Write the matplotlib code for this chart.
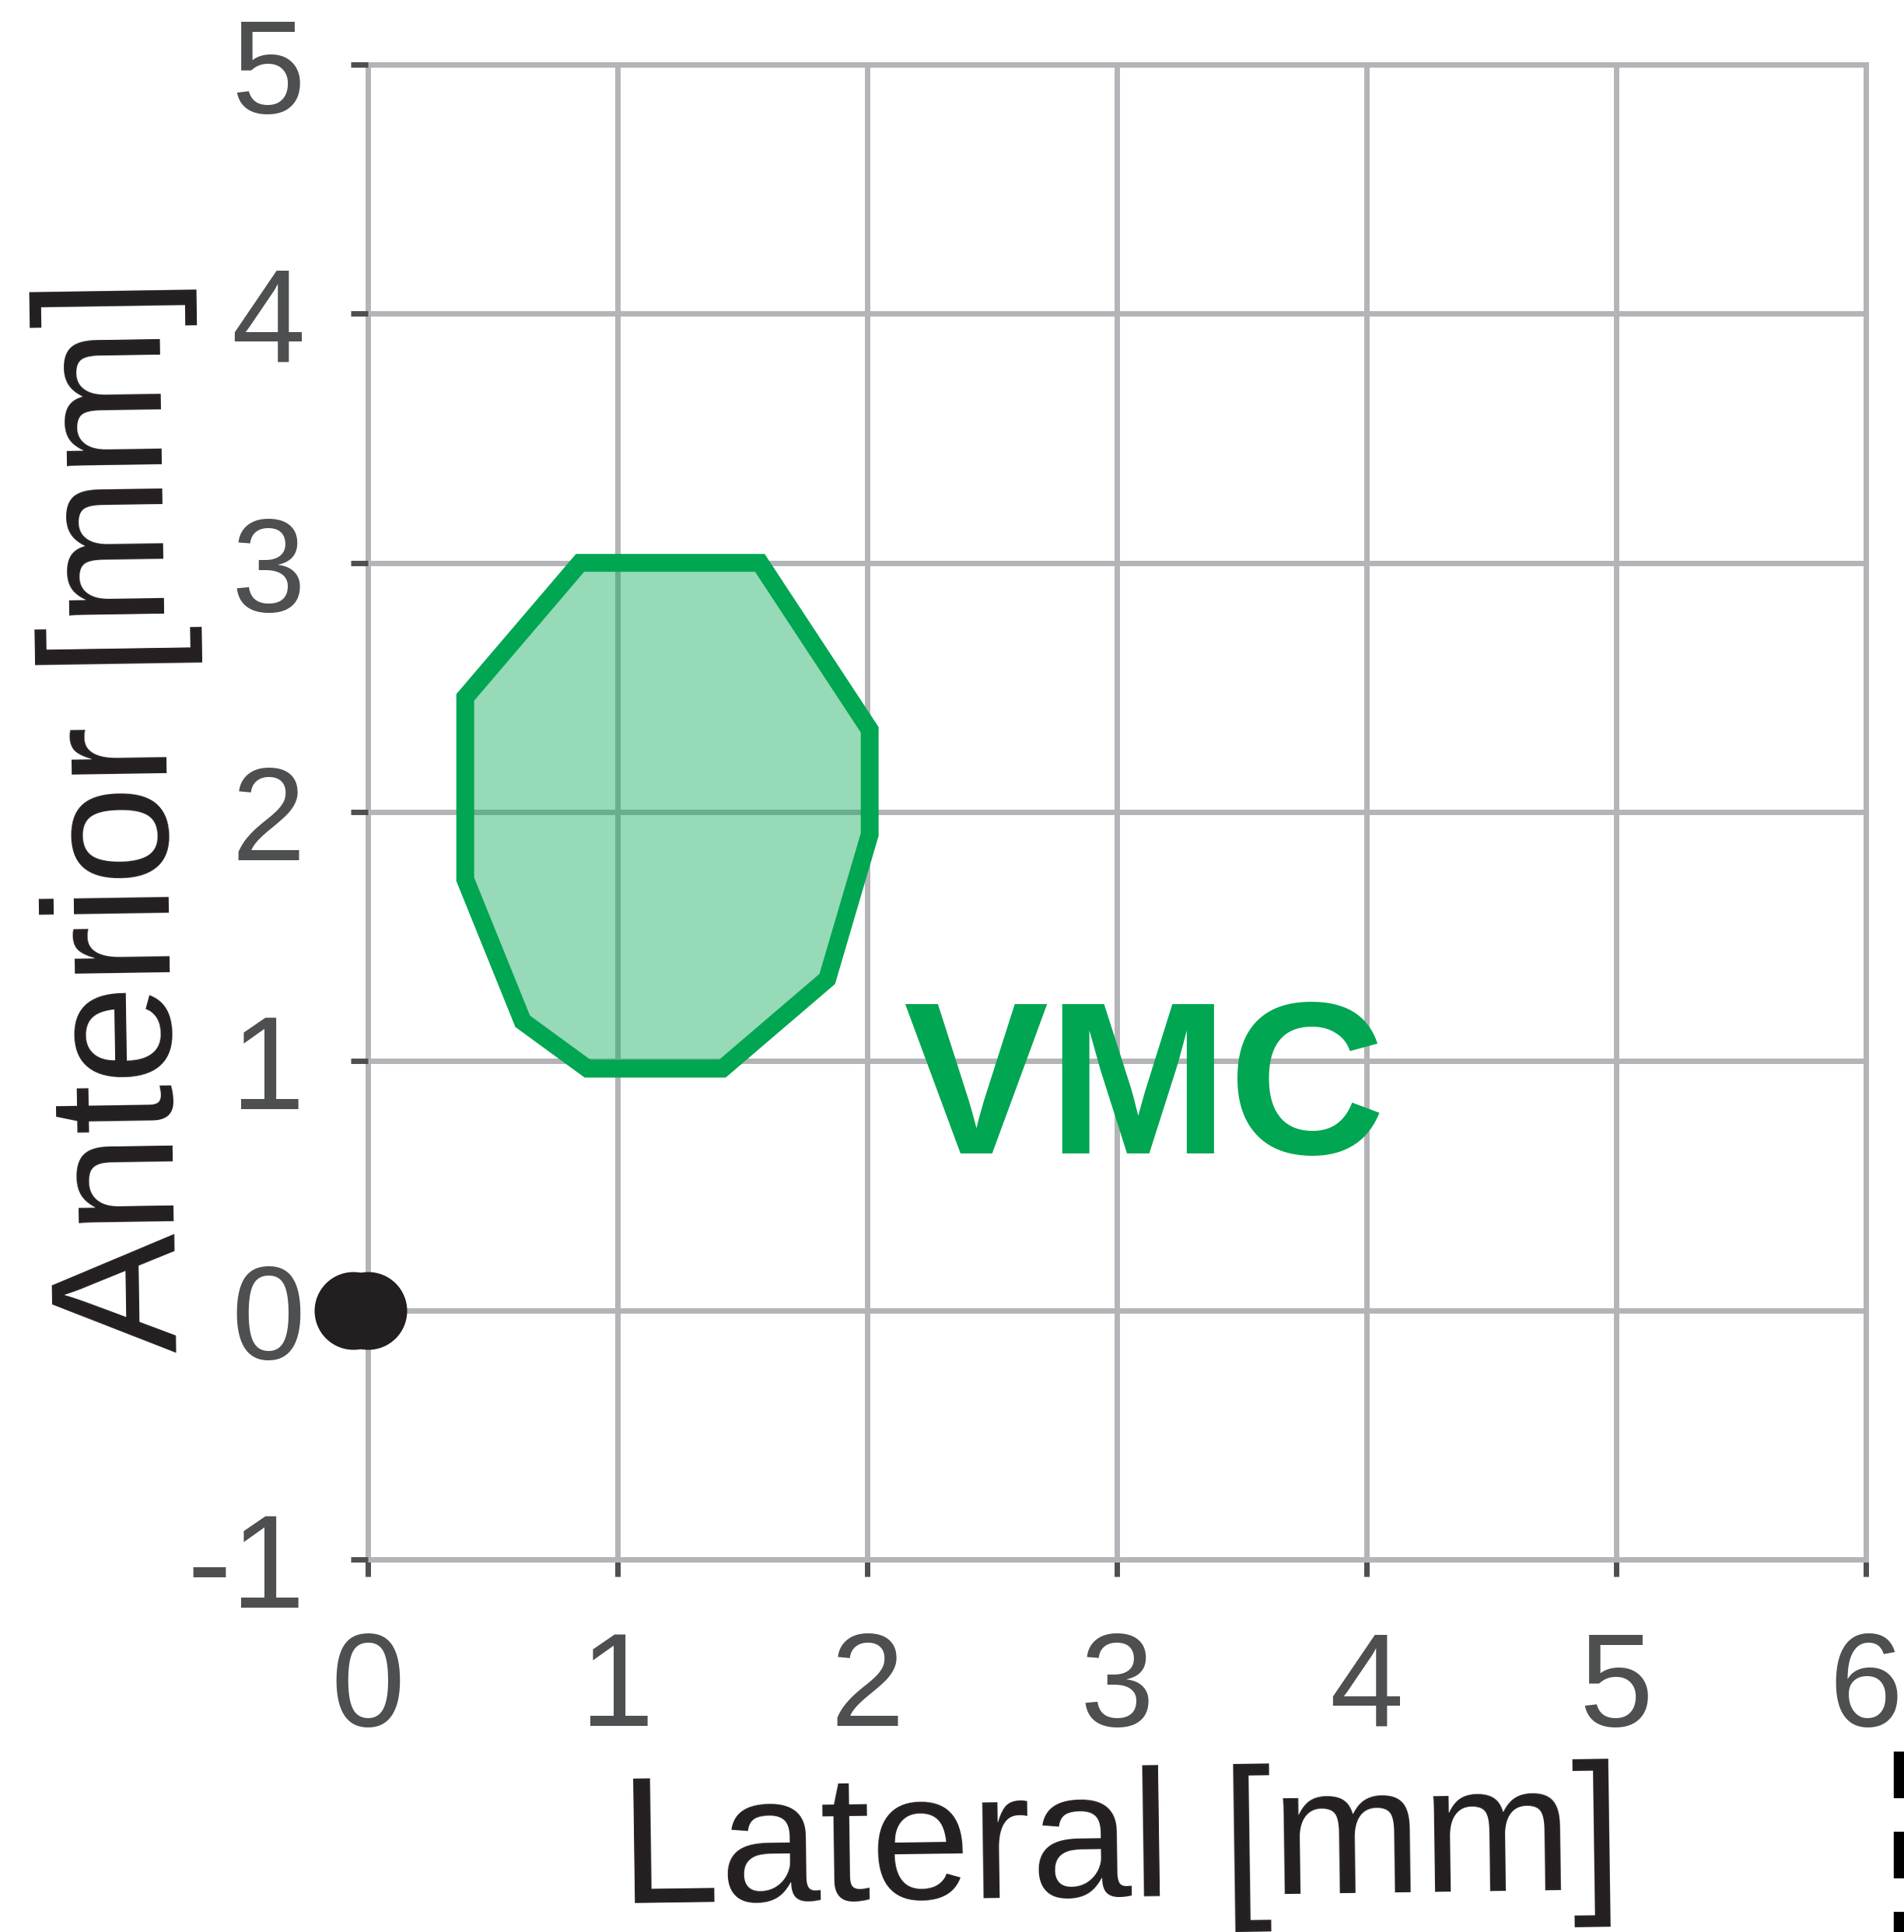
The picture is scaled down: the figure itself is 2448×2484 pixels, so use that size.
import matplotlib
matplotlib.use('Agg')
import matplotlib.pyplot as plt
from matplotlib.lines import Line2D

plt.rcParams['font.family'] = ['Liberation Sans', 'DejaVu Sans']
plt.rcParams['axes.unicode_minus'] = False

# VMC region outline (lateral / anterior, mm)
vmc_lat = [0.85, 1.57, 2.01, 2.01, 1.84, 1.42, 0.88, 0.62, 0.39, 0.39]
vmc_ant = [3.00, 3.00, 2.33, 1.91, 1.33, 0.97, 0.97, 1.16, 1.73, 2.46]

# reference points near origin
ref_lat = [-0.06, 0.0]
ref_ant = [0.0, 0.0]

x_ticks = [0, 1, 2, 3, 4, 5, 6]
y_ticks = [-1, 0, 1, 2, 3, 4, 5]
x_labels = ['0', '1', '2', '3', '4', '5', '6']
y_labels = ['-1', '0', '1', '2', '3', '4', '5']
region_name = 'VMC'
region_label_pos = (3.11, 0.63)

green = '#00a651'
grid_col = '#b3b4b8'
tick_col = '#4d4f51'
text_col = '#231f20'

fig = plt.figure(figsize=(24.48, 24.84), dpi=100)
ax = fig.add_axes([0.1932, 0.1928, 0.7868, 0.7738])

# filled region, then its outline
ax.fill(vmc_lat, vmc_ant, facecolor=green, alpha=0.41, edgecolor='none', zorder=2)
ax.fill(vmc_lat, vmc_ant, facecolor='none', edgecolor=green, lw=16.5,
        joinstyle='miter', zorder=3)

ax.scatter(ref_lat, ref_ant, s=72 ** 2, c=text_col, linewidths=0, zorder=5, clip_on=False)

ax.text(region_label_pos[0], region_label_pos[1], region_name, color=green,
        fontsize=201, fontweight='bold', ha='center', va='baseline', zorder=4)

ax.set_xlim(0, 6)
ax.set_ylim(-1, 5)
ax.set_xticks(x_ticks)
ax.set_xticklabels(x_labels)
ax.set_yticks(y_ticks)
ax.set_yticklabels(y_labels)

for s in ax.spines.values():
    s.set_visible(False)

ax.grid(True, color=grid_col, lw=5.0, zorder=0.5)
ax.set_axisbelow(True)
for gl in ax.get_xgridlines() + ax.get_ygridlines():
    gl.set_clip_on(False)

ax.tick_params(direction='out', length=16, width=5, color=tick_col,
               labelcolor=tick_col, labelsize=123)
ax.tick_params(axis='x', pad=49)
ax.tick_params(axis='y', pad=42)

fig.text(0.589, 0.0185, 'Lateral [mm]', fontsize=167, color=text_col,
         ha='center', va='baseline', rotation=0.8, rotation_mode='anchor')
fig.text(0.0884, 0.5785, 'Anterior [mm]', fontsize=166, color=text_col,
         ha='center', va='baseline', rotation=90.9, rotation_mode='anchor')

# cropped piece of neighbouring panel at right edge
lw_frag = 19
fig.add_artist(Line2D([0.9999, 0.9999], [0.0934, -0.01], transform=fig.transFigure,
                      color='black', lw=lw_frag,
                      dashes=(43.2 / lw_frag, 31 / lw_frag), dash_capstyle='butt'))

fig.savefig('out.png', dpi=100)
